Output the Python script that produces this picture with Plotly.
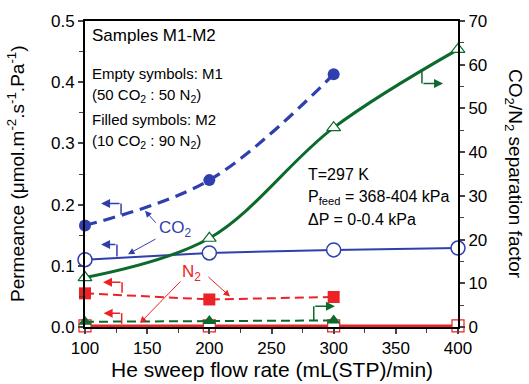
import plotly.graph_objects as go

# ---- data ----
flow_m1 = [100, 200, 300, 400]
co2_m1 = [0.110, 0.121, 0.126, 0.129]
n2_m1 = [0.002, 0.002, 0.002, 0.002]
sel_m1 = [11.3, 20.3, 45.6, 63.5]

flow_m2 = [100, 200, 300]
co2_m2 = [0.166, 0.240, 0.413]
n2_m2 = [0.055, 0.045, 0.049]
sel_m2 = [1.2, 1.4, 1.5]

x_ticks = [100, 150, 200, 250, 300, 350, 400]

BLUE = "#2f3fae"
RED = "#ec2326"
GREEN = "#0c6a2c"
FONT = "Liberation Sans, Arial, sans-serif"

fig = go.Figure()

# selectivity (right axis)
fig.add_trace(go.Scatter(x=flow_m1, y=sel_m1, yaxis="y2", mode="lines+markers",
                         line=dict(color=GREEN, width=3, shape="spline"),
                         marker=dict(symbol="triangle-up", size=12, color="white",
                                     line=dict(color=GREEN, width=1.2)),
                         cliponaxis=False))
fig.add_trace(go.Scatter(x=flow_m2, y=sel_m2, yaxis="y2", mode="lines+markers",
                         line=dict(color=GREEN, width=2, dash="9px,5px"),
                         marker=dict(symbol="triangle-up", size=12, color=GREEN),
                         cliponaxis=False))
# CO2 permeance
fig.add_trace(go.Scatter(x=flow_m1, y=co2_m1, mode="lines+markers",
                         line=dict(color=BLUE, width=2),
                         marker=dict(symbol="circle", size=14, color="white",
                                     line=dict(color=BLUE, width=1.5)),
                         cliponaxis=False))
fig.add_trace(go.Scatter(x=flow_m2, y=co2_m2, mode="lines+markers",
                         line=dict(color=BLUE, width=3.2, dash="12px,7px", shape="spline"),
                         marker=dict(symbol="circle", size=12, color=BLUE),
                         cliponaxis=False))
# N2 permeance
fig.add_trace(go.Scatter(x=flow_m1, y=n2_m1, mode="lines+markers",
                         line=dict(color=RED, width=2.5),
                         marker=dict(symbol="square", size=12, color="white",
                                     line=dict(color=RED, width=1.2)),
                         cliponaxis=False))
fig.add_trace(go.Scatter(x=flow_m2, y=n2_m2, mode="lines+markers",
                         line=dict(color=RED, width=2, dash="9px,5px"),
                         marker=dict(symbol="square", size=12, color=RED),
                         cliponaxis=False))

annotations = []
shapes = []


def indicator(xv, y0, y1, xh, color, yref="y"):
    shapes.append(dict(type="line", xref="x", yref=yref, x0=xv, x1=xv, y0=y0, y1=y1,
                       line=dict(color=color, width=1.5)))
    annotations.append(dict(x=xh, y=y1, ax=xv, ay=y1, xref="x", yref=yref,
                            axref="x", ayref=yref, text="", showarrow=True,
                            arrowhead=2, arrowsize=1.2, arrowwidth=1.5,
                            arrowcolor=color))


indicator(129, 0.184, 0.202, 112.9, BLUE)
indicator(125.7, 0.115, 0.135, 112.9, BLUE)
indicator(129.8, 0.056, 0.073, 114.5, RED)
indicator(129.5, 0.005, 0.0226, 115, RED)
indicator(284, 0.011, 0.034, 301, GREEN)
indicator(371, 0.419, 0.398, 388, GREEN)


def pointer(tx, ty, hx, hy, color):
    annotations.append(dict(x=hx, y=hy, ax=tx, ay=ty, xref="x", yref="y",
                            axref="x", ayref="y", text="", showarrow=True,
                            arrowhead=2, arrowsize=1.3, arrowwidth=1,
                            arrowcolor=color))


pointer(157.9, 0.168, 148.3, 0.190, BLUE)
pointer(157.9, 0.145, 134.6, 0.119, BLUE)
pointer(178, 0.077, 144.2, 0.0065, RED)
pointer(198, 0.084, 216.6, 0.050, RED)

annotations.append(dict(x=172.4, y=0.160, xref="x", yref="y", showarrow=False,
                        text="CO<sub>2</sub>", font=dict(size=17, color=BLUE, family=FONT)))
annotations.append(dict(x=186, y=0.089, xref="x", yref="y", showarrow=False,
                        text="N<sub>2</sub>", font=dict(size=17, color=RED, family=FONT)))


def label(text, px, py, size=15):
    annotations.append(dict(x=(px - 85) / 373, y=(327 - py) / 310, xref="paper",
                            yref="paper", xanchor="left", yanchor="middle",
                            showarrow=False, text=text,
                            font=dict(size=size, color="black", family=FONT)))


label("Samples M1-M2", 90, 32, 17)
label("Empty symbols: M1", 90, 70)
label("(50 CO<sub>2</sub> : 50 N<sub>2</sub>)", 90, 92)
label("Filled symbols: M2", 90, 117)
label("(10 CO<sub>2</sub> : 90 N<sub>2</sub>)", 90, 139)
label("T=297 K", 306, 173, 16)
label("P<sub>feed</sub> = 368-404 kPa", 306, 196, 16)
label("ΔP = 0-0.4 kPa", 306, 218, 16)

# axis titles
annotations.append(dict(x=(16 - 85) / 373, y=0.5, xref="paper", yref="paper",
                        textangle=-90, showarrow=False, xanchor="center", yanchor="middle",
                        text="Permeance (μmol.m<sup>-2</sup>.s<sup>-1</sup>.Pa<sup>-1</sup>)",
                        font=dict(size=19, color="black", family=FONT)))
annotations.append(dict(x=(514 - 85) / 373, y=0.5, xref="paper", yref="paper",
                        textangle=90, showarrow=False, xanchor="center", yanchor="middle",
                        text="CO<sub>2</sub>/N<sub>2</sub> separation factor",
                        font=dict(size=19, color="black", family=FONT)))
annotations.append(dict(x=0.5, y=(327 - 370) / 310, xref="paper", yref="paper",
                        showarrow=False, xanchor="center", yanchor="middle",
                        text="He sweep flow rate (mL(STP)/min)",
                        font=dict(size=21, color="black", family=FONT)))

fig.update_layout(
    width=529, height=384,
    margin=dict(l=85, r=71, t=17, b=57),
    paper_bgcolor="white", plot_bgcolor="white",
    showlegend=False,
    font=dict(family=FONT, size=17, color="black"),
    xaxis=dict(range=[100, 400], tickvals=x_ticks, ticks="outside", ticklen=5,
               tickwidth=1.5, showline=True, linecolor="black", linewidth=2,
               mirror=True, showgrid=False, zeroline=False,
               minor=dict(dtick=25, ticks="outside", ticklen=4, tickwidth=1.2,
                          showgrid=False)),
    yaxis=dict(range=[0, 0.5], dtick=0.1, tickformat=".1f", ticks="outside",
               ticklen=5, tickwidth=1.5, showline=True, linecolor="black",
               linewidth=2, showgrid=False, zeroline=False,
               minor=dict(dtick=0.05, ticks="outside", ticklen=4, tickwidth=1.2,
                          showgrid=False)),
    yaxis2=dict(range=[0, 70], dtick=10, overlaying="y", side="right",
                ticks="outside", ticklen=5, tickwidth=1.5, showline=True,
                linecolor="black", linewidth=2, showgrid=False, zeroline=False,
                minor=dict(dtick=5, ticks="outside", ticklen=4, tickwidth=1.2,
                           showgrid=False)),
    annotations=annotations,
    shapes=shapes,
)

fig.write_html("out.html")
